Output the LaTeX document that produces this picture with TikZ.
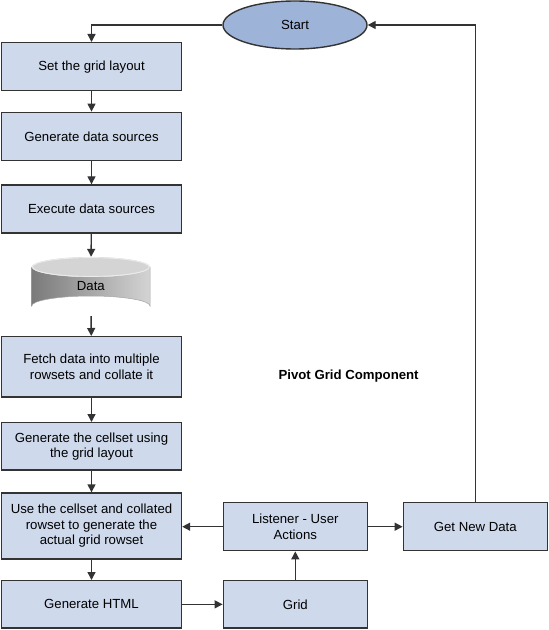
\documentclass[tikz,border=0pt]{standalone}
\usepackage{fontspec}
\setmainfont{Liberation Sans}
\usetikzlibrary{arrows.meta,shapes.geometric}
\definecolor{boxfill}{RGB}{206,217,236}
\definecolor{startfill}{RGB}{158,179,216}
\definecolor{edgecol}{RGB}{51,51,51}
\tikzset{
  stepbox/.style={draw=edgecol, line width=1.4bp, fill=boxfill, rectangle, align=center,
    inner sep=0pt, font=\fontsize{13.2bp}{15.5bp}\selectfont},
  startnode/.style={draw=edgecol, line width=1.4bp, fill=startfill, ellipse, inner sep=0pt,
    font=\fontsize{13.2bp}{15.5bp}\selectfont},
  conn/.style={draw=edgecol, line width=1.4bp, -{Triangle[length=8bp,width=8bp]}},
  labeltext/.style={font=\fontsize{13.2bp}{15.5bp}\selectfont\bfseries}
}
\begin{document}
\begin{tikzpicture}[x=1bp,y=-1bp]
\useasboundingbox (0,0) rectangle (549,630);
% cylinder body
\shade[left color=black!52, right color=black!17]
  (31.7,267) -- (31.7,306) arc[start angle=180,end angle=360,x radius=59.15,y radius=10]
  -- (150,267) arc[start angle=0,end angle=180,x radius=59.15,y radius=10] -- cycle;
\fill[black!17] (90.85,267) ellipse[x radius=59.15,y radius=10];
\draw[black!8, line width=0.9bp] (90.85,267) ellipse[x radius=58.4,y radius=9.4];
\draw[black!35, line width=0.5bp]
  (31.7,267) -- (31.7,306) arc[start angle=180,end angle=360,x radius=59.15,y radius=10] -- (150,267);

\node[startnode, minimum width=144bp, minimum height=48bp] (start) at (295,25) {Start};
\node[stepbox, minimum width=180bp, minimum height=48bp] (b1) at (91.5,66.7) {Set the grid layout};
\node[stepbox, minimum width=180bp, minimum height=48.4bp] (b2) at (91.5,136.5) {Generate data sources};
\node[stepbox, minimum width=180bp, minimum height=48bp] (b3) at (91.5,209) {Execute data sources};
\node[minimum width=118.3bp, minimum height=59bp, inner sep=0pt,
  font=\fontsize{13.2bp}{15.5bp}\selectfont] (data) at (90.85,286.5) {Data};
\node[stepbox, minimum width=180bp, minimum height=60.3bp] (fetch) at (91.5,366.85)
  {Fetch data into multiple\\rowsets and collate it};
\node[stepbox, minimum width=180bp, minimum height=47.3bp] (cellset) at (91.5,446.35)
  {Generate the cellset using\\the grid layout};
\node[stepbox, minimum width=180bp, minimum height=66bp] (use) at (91.5,526)
  {Use the cellset and collated\\rowset to generate the\\actual grid rowset};
\node[stepbox, minimum width=180bp, minimum height=47.3bp] (html) at (91.5,604.35) {Generate HTML};
\node[stepbox, minimum width=144bp, minimum height=47.3bp] (grid) at (295.3,604.35) {Grid};
\node[stepbox, minimum width=144bp, minimum height=48bp] (listener) at (295.3,526.7)
  {Listener - User\\Actions};
\node[stepbox, minimum width=144bp, minimum height=48bp] (getnew) at (475.3,526.7) {Get New Data};
\node[labeltext] (pivot) at (348.6,376) {Pivot Grid Component};

\coordinate (topright) at (475.3,25);
\draw[conn] (start.west) -| (b1.north);
\draw[conn] (b1) -- (b2);
\draw[conn] (b2) -- (b3);
\draw[conn] (b3) -- (data);
\draw[conn] (data) -- (fetch);
\draw[conn] (fetch) -- (cellset);
\draw[conn] (cellset) -- (use);
\draw[conn] (use) -- (html);
\draw[conn] (html) -- (grid);
\draw[conn] (grid) -- (listener);
\draw[conn] (listener.west) -- (use.east |- listener.west);
\draw[conn] (listener) -- (getnew);
\draw[conn] (getnew.north) -- (topright) -- (start.east);
\end{tikzpicture}
\end{document}
